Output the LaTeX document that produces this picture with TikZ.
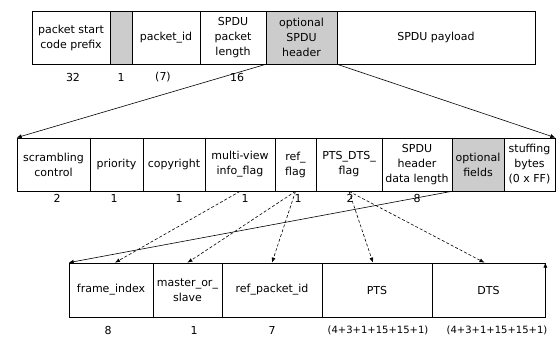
\documentclass[tikz,border=0pt]{standalone}
\usepackage{fontspec}
\setmainfont{DejaVu Sans}
\usetikzlibrary{arrows.meta}
\newcommand{\lblfont}{\fontsize{11}{15}\selectfont}
\tikzset{
  cell/.style={draw, line width=0.7pt, inner sep=0pt, align=center, font=\lblfont},
  shadedcell/.style={cell, fill=gray!40},
  num/.style={font=\lblfont, inner sep=0pt},
  link/.style={line width=0.6pt, -{Latex[length=5pt,width=4pt]}},
  dlink/.style={link, densely dashed}
}
\begin{document}
\begin{tikzpicture}[x=1pt,y=-1pt]
\useasboundingbox (0,0) rectangle (556,338);
% top row
\node[cell, minimum width=78pt, minimum height=53pt] (psc) at (71,37.5) {packet start\\code prefix};
\node[shadedcell, minimum width=22pt, minimum height=53pt] (s1) at (121,37.5) {};
\node[cell, minimum width=68pt, minimum height=53pt] (pid) at (166,37.5) {packet\_id};
\node[cell, minimum width=66pt, minimum height=53pt] (len) at (233,37.5) {SPDU\\packet\\length};
\node[shadedcell, minimum width=71pt, minimum height=53pt] (opt) at (301.5,37.5) {optional\\SPDU\\header};
\node[cell, minimum width=198pt, minimum height=53pt] (pay) at (436,37.5) {SPDU payload};
\node[num] (n1) at (73,77) {32};
\node[num] (n2) at (121,77) {1};
\node[num] (n3) at (163,77) {(7)};
\node[num] (n4) at (237,77) {16};
% middle row
\node[cell, minimum width=73pt, minimum height=53pt] (scr) at (53.5,164.5) {scrambling\\control};
\node[cell, minimum width=53pt, minimum height=53pt] (pri) at (116.5,164.5) {priority};
\node[cell, minimum width=62pt, minimum height=53pt] (cpy) at (174,164.5) {copyright};
\node[cell, minimum width=70pt, minimum height=53pt] (mv) at (240,164.5) {multi-view\\info\_flag};
\node[cell, minimum width=41pt, minimum height=53pt] (ref) at (295.5,164.5) {ref\_\\flag};
\node[cell, minimum width=66pt, minimum height=53pt] (pdf) at (349,164.5) {PTS\_DTS\_\\flag};
\node[cell, minimum width=70pt, minimum height=53pt] (hdl) at (417,164.5) {SPDU\\header\\data length};
\node[shadedcell, minimum width=52pt, minimum height=53pt] (optf) at (478,164.5) {optional\\fields};
\node[cell, minimum width=51pt, minimum height=53pt] (stf) at (529.5,164.5) {stuffing\\bytes\\(0 x FF)};
\node[num] (m1) at (57,198) {2};
\node[num] (m2) at (114,198) {1};
\node[num] (m3) at (179,198) {1};
\node[num] (m4) at (245,198) {1};
\node[num] (m5) at (298,198) {1};
\node[num] (m6) at (350,198) {2};
\node[num] (m7) at (417,198) {8};
% bottom row
\node[cell, minimum width=84pt, minimum height=54pt] (fi) at (111,290) {frame\_index};
\node[cell, minimum width=69pt, minimum height=54pt] (ms) at (187.5,290) {master\_or\_\\slave};
\node[cell, minimum width=100pt, minimum height=54pt] (rp) at (272,290) {ref\_packet\_id};
\node[cell, minimum width=110pt, minimum height=54pt] (pts) at (377,290) {PTS};
\node[cell, minimum width=113pt, minimum height=54pt] (dts) at (488.5,290) {DTS};
\node[num] (b1) at (108,330) {8};
\node[num] (b2) at (194,330) {1};
\node[num] (b3) at (272,330) {7};
\node[num, font=\fontsize{10}{12}\selectfont] (b4) at (378,330) {(4+3+1+15+15+1)};
\node[num, font=\fontsize{10}{12}\selectfont] (b5) at (497,330) {(4+3+1+15+15+1)};
% connectors
\coordinate (dtsstub) at ([yshift=-8pt]dts.north east);
\draw[link] (opt.south west) -- (scr.north west);
\draw[link] (opt.south east) -- (stf.north east);
\draw[link] (optf.south west) -- (fi.north west);
\draw[link] (dtsstub) -- (dts.north east);
\draw[dlink] (mv.south) -- ([xshift=4pt]fi.north);
\draw[dlink] (ref.south) -- (ms.north);
\draw[dlink] (ref.south) -- (rp.north);
\draw[dlink] (pdf.south) -- ([xshift=-4pt]pts.north);
\draw[dlink] (pdf.south) -- ([xshift=-4pt]dts.north);
\end{tikzpicture}
\end{document}
